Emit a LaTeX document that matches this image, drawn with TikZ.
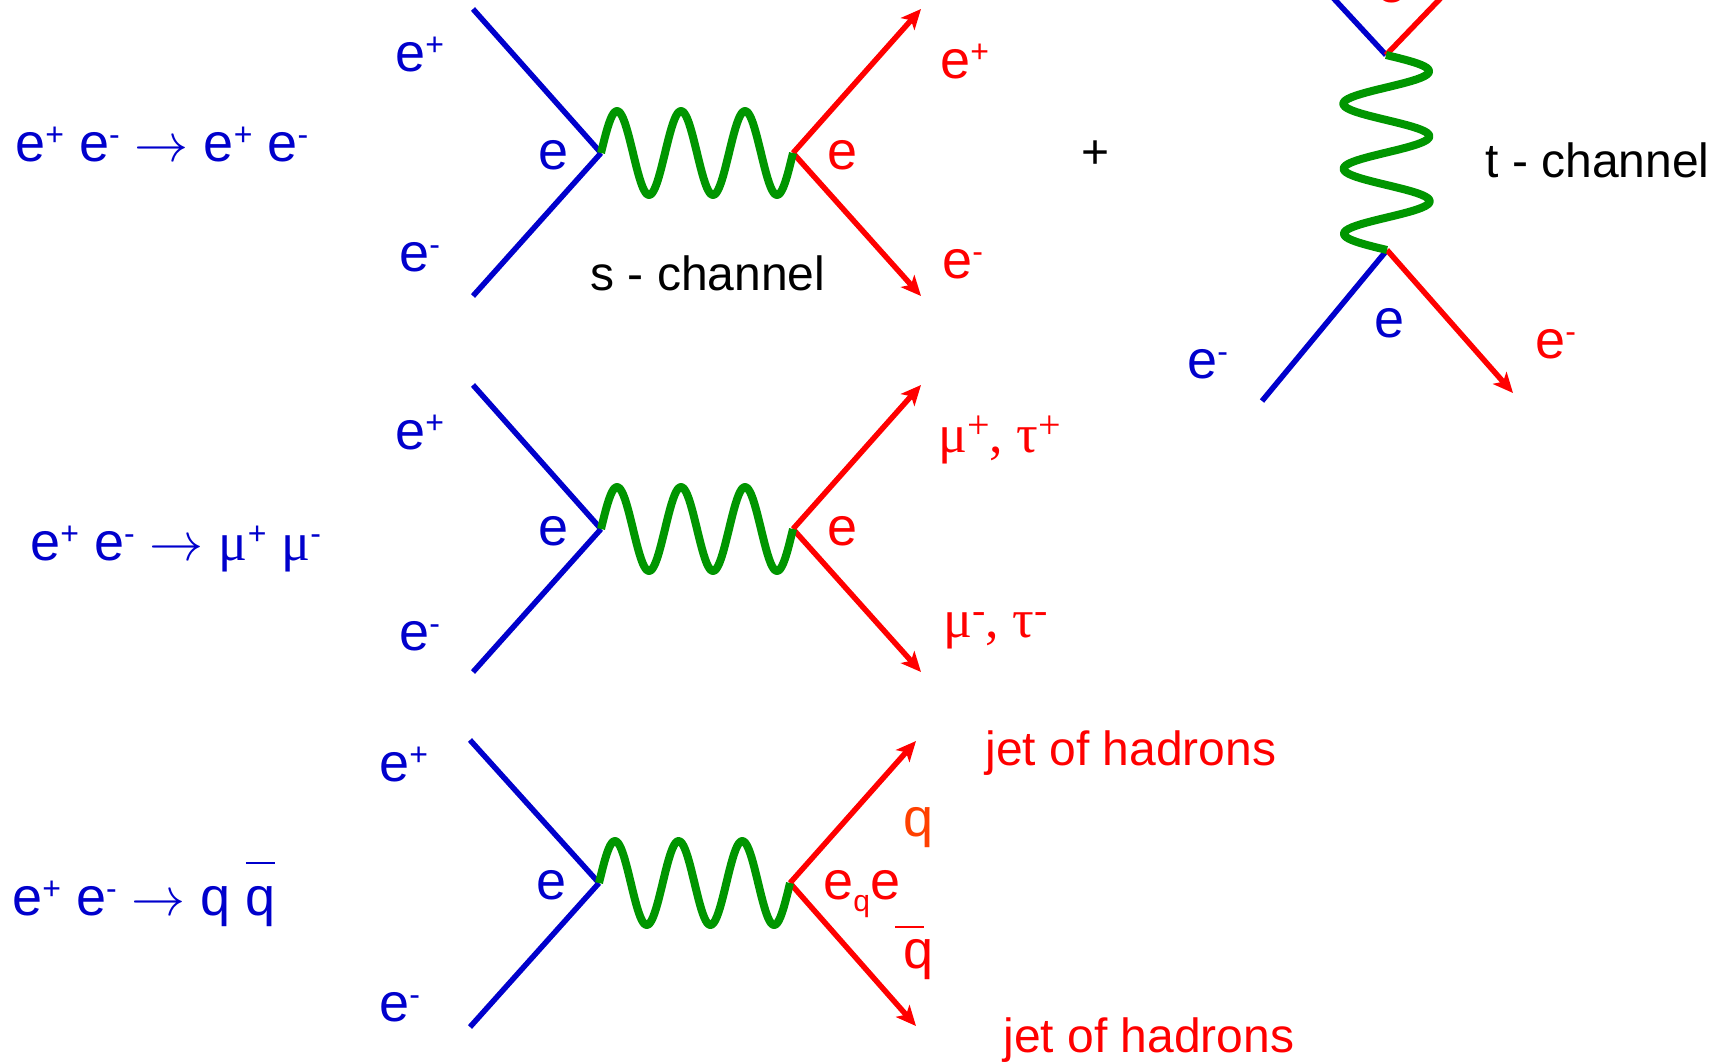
\RequirePackage{fix-cm}
\documentclass[tikz,border=0pt]{standalone}
\usepackage{fontspec}
\setmainfont{Liberation Sans}
\newfontfamily\greekfont{Liberation Serif}
\usetikzlibrary{arrows.meta, calc}

\definecolor{eblue}{RGB}{0,0,204}
\definecolor{ered}{RGB}{255,0,0}
\definecolor{pgreen}{RGB}{0,150,0}
\definecolor{qorange}{RGB}{255,64,0}

\newcommand{\chg}[1]{\raisebox{8pt}{\fontsize{16}{16}\selectfont #1}}
\newcommand{\gchg}[1]{\raisebox{7pt}{\fontsize{20}{20}\selectfont #1}}
\newcommand{\lo}[1]{\raisebox{-6pt}{\fontsize{15}{15}\selectfont #1}}
\newcommand{\qbar}[2]{\rlap{\hspace{#2}\raisebox{#1}{\rule{14.5pt}{1pt}}}q}

\begin{document}
\begin{tikzpicture}[
  x=0.5pt, y=-0.5pt,
  lbl/.style={inner sep=0pt, anchor=base west, font=\fontsize{27}{32}\selectfont},
  bluelbl/.style={lbl, text=eblue},
  redlbl/.style={lbl, text=ered},
  txt/.style={inner sep=0pt, anchor=base west, font=\fontsize{24}{29}\selectfont},
  fermion/.style={line width=2.75pt, draw=eblue},
  outgoing/.style={line width=2.75pt, draw=ered, -{Stealth[length=10pt, width=9pt, inset=2.5pt]}},
  photon/.style={line width=4pt, draw=pgreen, line join=round}
]
\useasboundingbox (0,0) rectangle (1723,1061);
\clip (0,0) rectangle (1723,1061);

% -------------------------
% e+ e- -> e+ e-  (s-channel)
% -------------------------
\coordinate (eeIn1) at (473,9);
\coordinate (eeIn2) at (473,296);
\coordinate (eeV1) at (601,153);
\coordinate (eeV2) at (793,153);
\coordinate (eeOut1) at (921,9);
\coordinate (eeOut2) at (921,296);

\draw[fermion] (eeIn1) -- (eeV1);
\draw[fermion] (eeIn2) -- (eeV1);
\draw[outgoing] (eeV2) -- (eeOut1);
\draw[outgoing] (eeV2) -- (eeOut2);
\draw[photon] (eeV1) \foreach \i in {1,...,120} { -- ($(eeV1)!{\i/120}!(eeV2)+(0,{-42*sin(9*\i)})$) };

\node[bluelbl] (eeReact) at (15,161) {e\chg{+} e\chg{-} $\rightarrow$ e\chg{+} e\chg{-}};
\node[bluelbl] (eeLabIn1) at (395,71) {e\chg{+}};
\node[bluelbl] (eeLabIn2) at (399,271) {e\chg{-}};
\node[bluelbl] (eeLabV1) at (538,169) {e};
\node[redlbl] (eeLabV2) at (827,169) {e};
\node[redlbl] (eeLabOut1) at (940,78) {e\chg{+}};
\node[redlbl] (eeLabOut2) at (942,278) {e\chg{-}};
\node[txt] (sLab) at (590,290) {s - channel};
\node[txt, anchor=center] (plus) at (1095,155) {+};

% -------------------------
% t-channel
% -------------------------
\coordinate (tIn1) at (1312,-25);
\coordinate (tOut1) at (1460,-22);
\coordinate (tV1) at (1386,55);
\coordinate (tV2) at (1387,250);
\coordinate (tIn2) at (1262,401);
\coordinate (tOut2) at (1513,393);

\draw[fermion] (tIn1) -- (tV1);
\draw[line width=2.75pt, draw=ered] (tV1) -- (tOut1);
\draw[fermion] (tIn2) -- (tV2);
\draw[outgoing] (tV2) -- (tOut2);
\draw[photon] (tV1) \foreach \i in {1,...,120} { -- ($(tV1)!{\i/120}!(tV2)+({43*sin(9*\i)},0)$) };

\node[redlbl] (tLabTop) at (1376,2) {e};
\node[txt] (tLab) at (1485,177) {t - channel};
\node[bluelbl] (tLabV2) at (1374,337) {e};
\node[bluelbl] (tLabIn2) at (1187,378) {e\chg{-}};
\node[redlbl] (tLabOut2) at (1535,358) {e\chg{-}};

% -------------------------
% e+ e- -> mu+ mu-
% -------------------------
\coordinate (mmIn1) at (473,385);
\coordinate (mmIn2) at (473,672);
\coordinate (mmV1) at (601,529);
\coordinate (mmV2) at (793,529);
\coordinate (mmOut1) at (921,385);
\coordinate (mmOut2) at (921,672);

\draw[fermion] (mmIn1) -- (mmV1);
\draw[fermion] (mmIn2) -- (mmV1);
\draw[outgoing] (mmV2) -- (mmOut1);
\draw[outgoing] (mmV2) -- (mmOut2);
\draw[photon] (mmV1) \foreach \i in {1,...,120} { -- ($(mmV1)!{\i/120}!(mmV2)+(0,{-42*sin(9*\i)})$) };

\node[bluelbl] (mmReact) at (30,560) {e\chg{+} e\chg{-} $\rightarrow$ {\greekfont μ}\chg{+} {\greekfont μ}\chg{-}};
\node[bluelbl] (mmLabIn1) at (395,449) {e\chg{+}};
\node[bluelbl] (mmLabIn2) at (399,650) {e\chg{-}};
\node[bluelbl] (mmLabV1) at (538,545) {e};
\node[redlbl] (mmLabV2) at (827,545) {e};
\node[redlbl, font=\fontsize{27}{32}\greekfont] (mmLabOut1) at (938,452) {μ\gchg{+}, τ\gchg{+}};
\node[redlbl, font=\fontsize{27}{32}\greekfont] (mmLabOut2) at (943,637) {μ\gchg{-}, τ\gchg{-}};

% -------------------------
% e+ e- -> q qbar
% -------------------------
\coordinate (qqIn1) at (470,740);
\coordinate (qqIn2) at (470,1027);
\coordinate (qqV1) at (599,883);
\coordinate (qqV2) at (790,883);
\coordinate (qqOut1) at (916,741);
\coordinate (qqOut2) at (916,1026);

\draw[fermion] (qqIn1) -- (qqV1);
\draw[fermion] (qqIn2) -- (qqV1);
\draw[outgoing] (qqV2) -- (qqOut1);
\draw[outgoing] (qqV2) -- (qqOut2);
\draw[photon] (qqV1) \foreach \i in {1,...,120} { -- ($(qqV1)!{\i/120}!(qqV2)+(0,{-42*sin(9*\i)})$) };

\node[bluelbl] (qqReact) at (12,915) {e\chg{+} e\chg{-} $\rightarrow$ q \qbar{25.5pt}{0pt}};
\node[bluelbl] (qqLabIn1) at (379,781) {e\chg{+}};
\node[bluelbl] (qqLabIn2) at (379,1021) {e\chg{-}};
\node[bluelbl] (qqLabV1) at (536,899) {e};
\node[redlbl] (qqLabV2) at (823,899) {e\lo{q}e};
\node[lbl, text=qorange] (qqLabOut1) at (903,836) {q};
\node[redlbl] (qqLabOut2) at (903,968) {\qbar{20pt}{-4pt}};
\node[txt, text=ered] (jetTop) at (985,765) {jet of hadrons};
\node[txt, text=ered] (jetBot) at (1003,1052) {jet of hadrons};

\end{tikzpicture}
\end{document}
